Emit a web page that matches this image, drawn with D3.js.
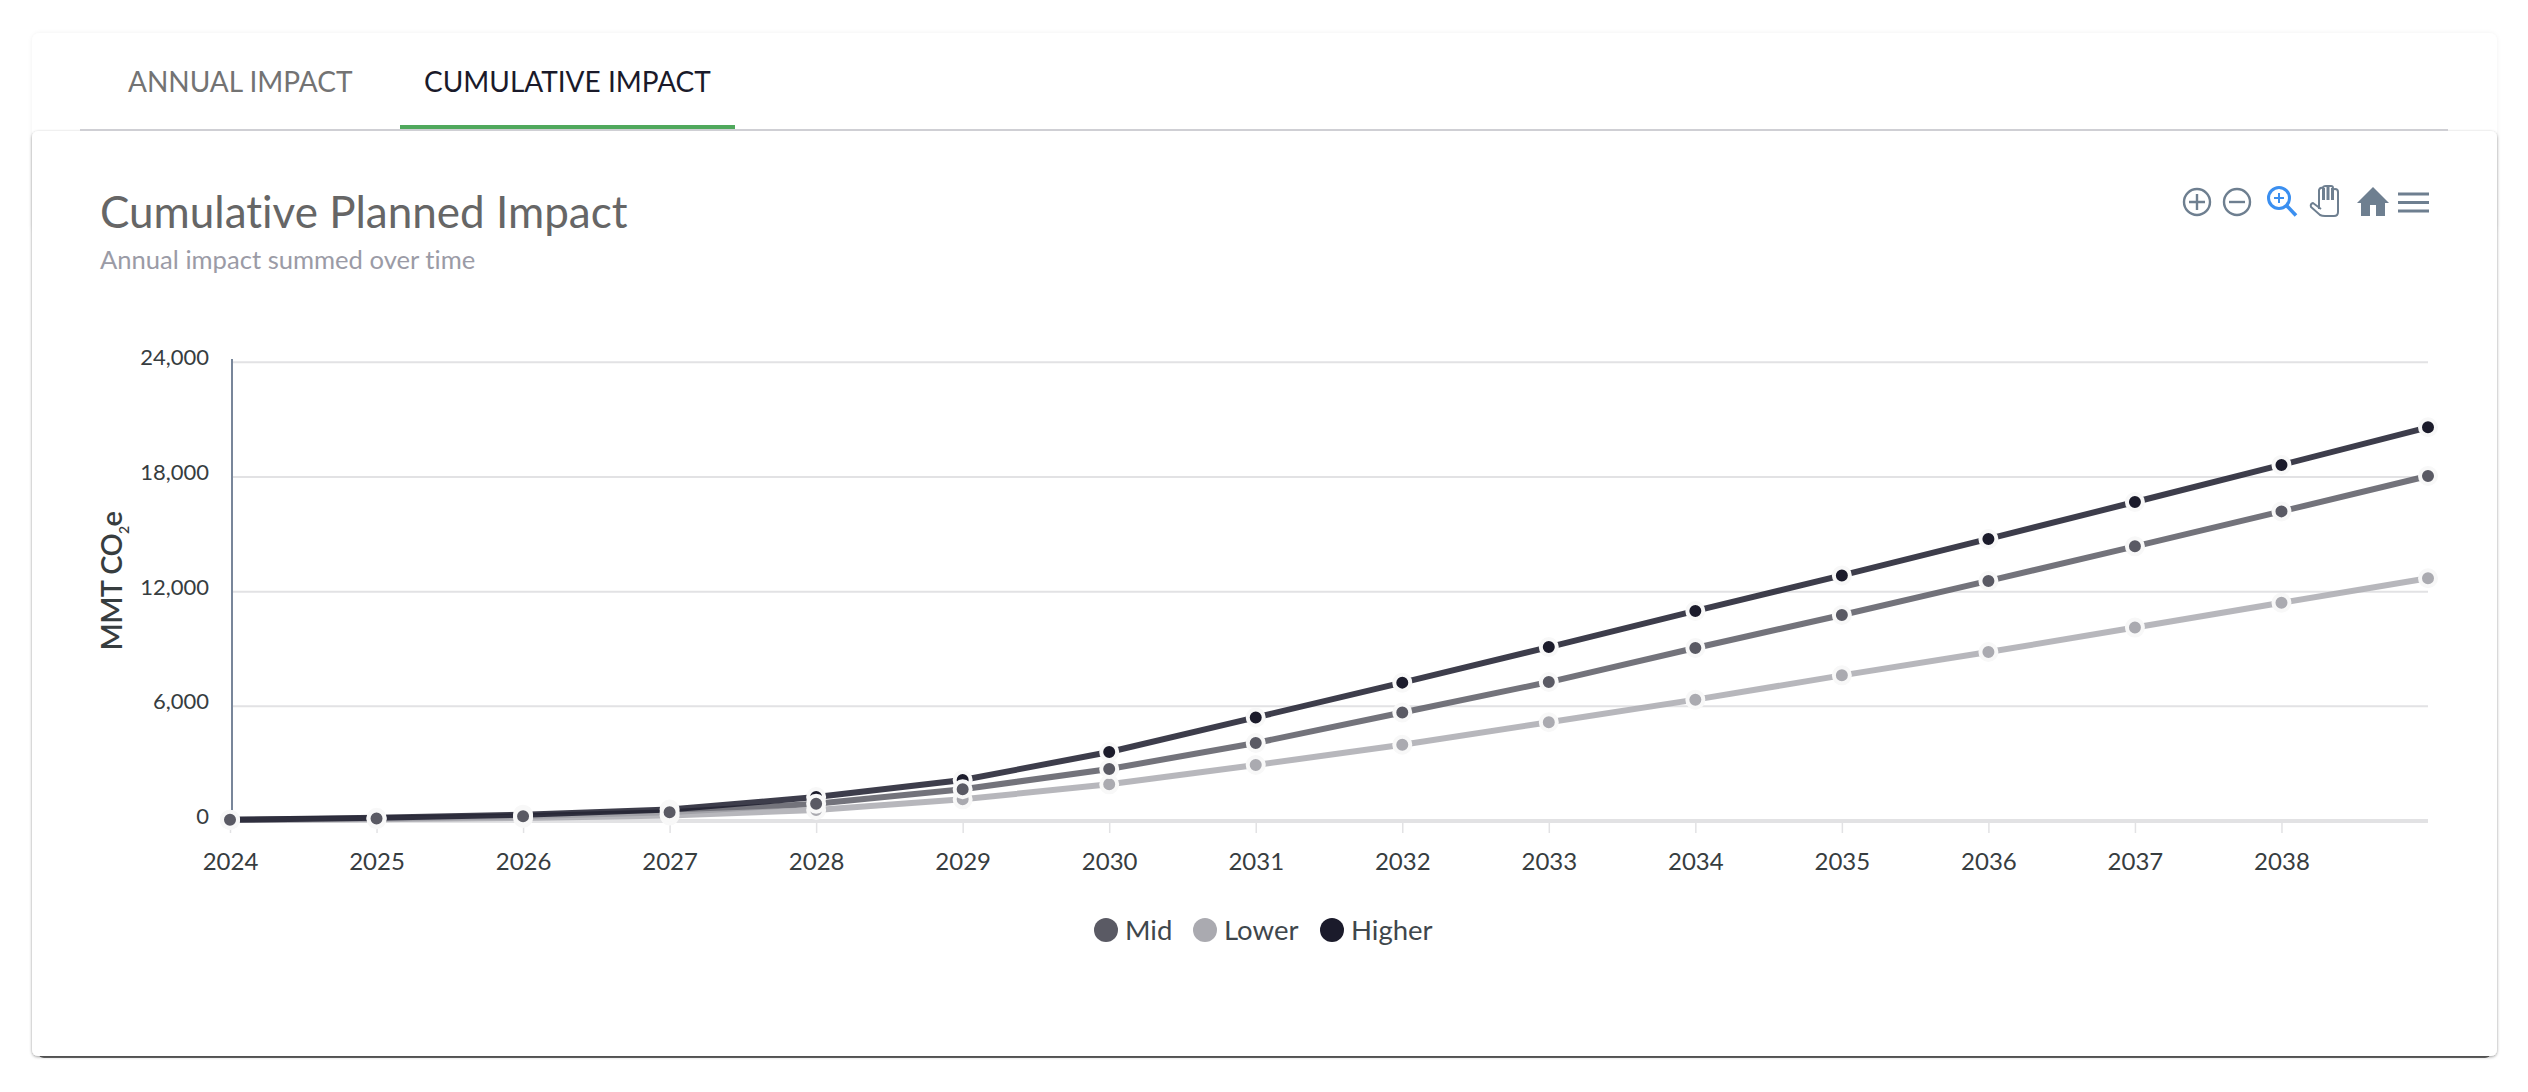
<!DOCTYPE html>
<html>
<head>
<meta charset="utf-8">
<script src="https://cdn.jsdelivr.net/npm/d3@7"></script>
<style>
  html, body { margin: 0; padding: 0; background: #fff; }
  svg { display: block; font-family: Lato, sans-serif; font-variant-ligatures: none; }
</style>
</head>
<body>
<svg id="chart" width="2528" height="1092"></svg>
<script>
// values
var years = ["2024","2025","2026","2027","2028","2029","2030","2031","2032","2033","2034","2035","2036","2037","2038","2039"];
var xTickLabels = ["2024","2025","2026","2027","2028","2029","2030","2031","2032","2033","2034","2035","2036","2037","2038"];
var yTicks = [0, 6000, 12000, 18000, 24000];
var mid = [70,125,245,455,905,1660,2720,4080,5680,7270,9050,10780,12560,14370,16200,18050];
var lower = [50,90,160,290,575,1135,1920,2930,3990,5170,6350,7620,8840,10120,11420,12700];
var higher = [60,170,330,600,1255,2145,3610,5420,7240,9100,10990,12850,14757,16690,18630,20600];

var seriesNames = ["Mid","Lower","Higher"];
var seriesValues = [mid, lower, higher];
var seriesColors = ["#5a5a64","#aaaab0","#1b1b2b"];

var svg = d3.select("#chart");

// cards and tabs
var defs = svg.append("defs");
var shadow = defs.append("filter").attr("id","cardShadow").attr("x","-2%").attr("y","-5%").attr("width","104%").attr("height","110%");
shadow.append("feDropShadow").attr("dx",0).attr("dy",1).attr("stdDeviation",1.6).attr("flood-color","#000").attr("flood-opacity",0.4);
var soft = defs.append("filter").attr("id","softShadow").attr("x","-2%").attr("y","-20%").attr("width","104%").attr("height","140%");
soft.append("feDropShadow").attr("dx",0).attr("dy",0).attr("stdDeviation",2).attr("flood-color","#000").attr("flood-opacity",0.06);

svg.append("rect").attr("x",32).attr("y",33).attr("width",2465).attr("height",200).attr("rx",8)
  .attr("fill","#fff").attr("filter","url(#softShadow)");
// dark edge along the bottom of the card
svg.append("rect").attr("x",38).attr("y",1000).attr("width",2453).attr("height",58).attr("rx",6)
  .attr("fill","#6c6c6c");
svg.append("rect").attr("x",32).attr("y",131).attr("width",2465).attr("height",925).attr("rx",6)
  .attr("fill","#fff").attr("filter","url(#cardShadow)");

svg.append("rect").attr("x",80).attr("y",129).attr("width",2368).attr("height",2).attr("fill","#cfcfd4");
svg.append("rect").attr("x",400).attr("y",125).attr("width",335).attr("height",4).attr("fill","#4fa85c");

svg.append("text").attr("x",128).attr("y",92).attr("font-size",28).attr("fill","#737373").text("ANNUAL IMPACT");
svg.append("text").attr("x",424).attr("y",92).attr("font-size",28).attr("fill","#1a1a2a").text("CUMULATIVE IMPACT");

svg.append("text").attr("x",100).attr("y",227.5).attr("font-size",44).attr("fill","#666").text("Cumulative Planned Impact");
svg.append("text").attr("x",100).attr("y",269).attr("font-size",25.6).attr("fill","#9b9ba6").text("Annual impact summed over time");

// scales and axes
var x = d3.scalePoint().domain(years).range([230, 2428]);
var y = d3.scaleLinear().domain([0, 24000]).range([821, 362.3]);

var grid = svg.append("g").attr("class","grid");
grid.selectAll("line").data(yTicks).join("line")
  .attr("x1",232).attr("x2",2428)
  .attr("y1",function(d){ return y(d); }).attr("y2",function(d){ return y(d); })
  .attr("stroke", "#e2e2e4")
  .attr("stroke-width",function(d){ return d === 0 ? 4 : 2; });

var xAxis = svg.append("g").attr("transform","translate(0,823)")
  .call(d3.axisBottom(x).tickValues(xTickLabels).tickSize(10).tickPadding(19.5));
xAxis.select(".domain").remove();
xAxis.selectAll("line").attr("stroke","#e2e2e4").attr("stroke-width",1.5);
xAxis.selectAll("text").attr("font-family","Lato, sans-serif").attr("font-size",24).attr("fill","#373d3f");

var yAxis = svg.append("g").attr("transform","translate(209,0)")
  .call(d3.axisLeft(y).tickValues(yTicks).tickSize(0).tickPadding(0).tickFormat(d3.format(",")));
yAxis.select(".domain").remove();
yAxis.selectAll("text").attr("font-family","Lato, sans-serif").attr("font-size",22).attr("fill","#373d3f").attr("dy","0.12em");

svg.append("line").attr("x1",232).attr("x2",232).attr("y1",359).attr("y2",821)
  .attr("stroke","#78869a").attr("stroke-width",2);

var yTitle = svg.append("text").attr("transform","translate(122,581) rotate(-90)")
  .attr("text-anchor","middle").attr("font-size",29).attr("font-weight",600).attr("letter-spacing",-0.6).attr("fill","#373d3f");
yTitle.append("tspan").text("MMT CO");
yTitle.append("tspan").attr("font-size",14).attr("dy",7).text("2");
yTitle.append("tspan").attr("dy",-7).text("e");

// series lines
var line = d3.line()
  .x(function(d,i){ return x(years[i]); })
  .y(function(d){ return y(d); });

svg.append("g").selectAll("path").data(seriesValues).join("path")
  .attr("d",line)
  .attr("fill","none")
  .attr("stroke",function(d,i){ return seriesColors[i]; })
  .attr("stroke-width",6)
  .attr("stroke-opacity",0.85);

// markers, mid ends up on top
[2,1,0].forEach(function(s){
  svg.append("g").selectAll("circle").data(seriesValues[s]).join("circle")
    .attr("cx",function(d,i){ return x(years[i]); })
    .attr("cy",function(d){ return y(d); })
    .attr("r",8)
    .attr("fill",seriesColors[s])
    .attr("stroke","#f8f8f8")
    .attr("stroke-width",4);
});

// legend
var legendX = [1106, 1205, 1332];
var legend = svg.append("g").selectAll("g").data(seriesNames).join("g")
  .attr("transform",function(d,i){ return "translate(" + legendX[i] + ",930)"; });
legend.append("circle").attr("r",12).attr("fill",function(d,i){ return seriesColors[i]; });
legend.append("text").attr("x",19).attr("y",10).attr("font-size",27.5).attr("fill","#3f474c").text(function(d){ return d; });

// toolbar icons
var iconColor = "#6e7f90";
var tb = svg.append("g").attr("fill","none").attr("stroke",iconColor).attr("stroke-width",2.4);
tb.append("circle").attr("cx",2197).attr("cy",202).attr("r",13);
tb.append("path").attr("d","M2189 202H2205M2197 194V210");
tb.append("circle").attr("cx",2237).attr("cy",202).attr("r",13);
tb.append("path").attr("d","M2229 202H2245");
var zoomIcon = svg.append("g").attr("fill","none").attr("stroke","#3b8ff0").attr("stroke-width",3);
zoomIcon.append("circle").attr("cx",2279).attr("cy",198).attr("r",10.5);
zoomIcon.append("path").attr("d","M2286.5 205.5L2296 215.5").attr("stroke-width",3.6);
zoomIcon.append("path").attr("d","M2274 198H2284M2279 193V203").attr("stroke-width",2);
svg.append("path")
  .attr("d","M2321 209L2313 203Q2310 204 2311 207L2320 215Q2322 216 2325 216H2334Q2338 216 2338 212V192Q2338 189 2335 189Q2333 189 2333 190V188Q2333 186 2331 186H2326Q2323 186 2323 188Q2320 187 2319 190V209")
  .attr("fill","none").attr("stroke",iconColor).attr("stroke-width",2);
svg.append("path").attr("d","M2323.5 188V200M2328 187V200M2332.5 188V200").attr("stroke",iconColor).attr("stroke-width",3);
svg.append("path").attr("d","M2373 187L2357 203H2361V216H2370V205H2376V216H2385V203H2389Z").attr("fill",iconColor);
svg.append("path").attr("d","M2398 194H2429M2398 202.5H2429M2398 211H2429").attr("stroke",iconColor).attr("stroke-width",3);
</script>
</body>
</html>
